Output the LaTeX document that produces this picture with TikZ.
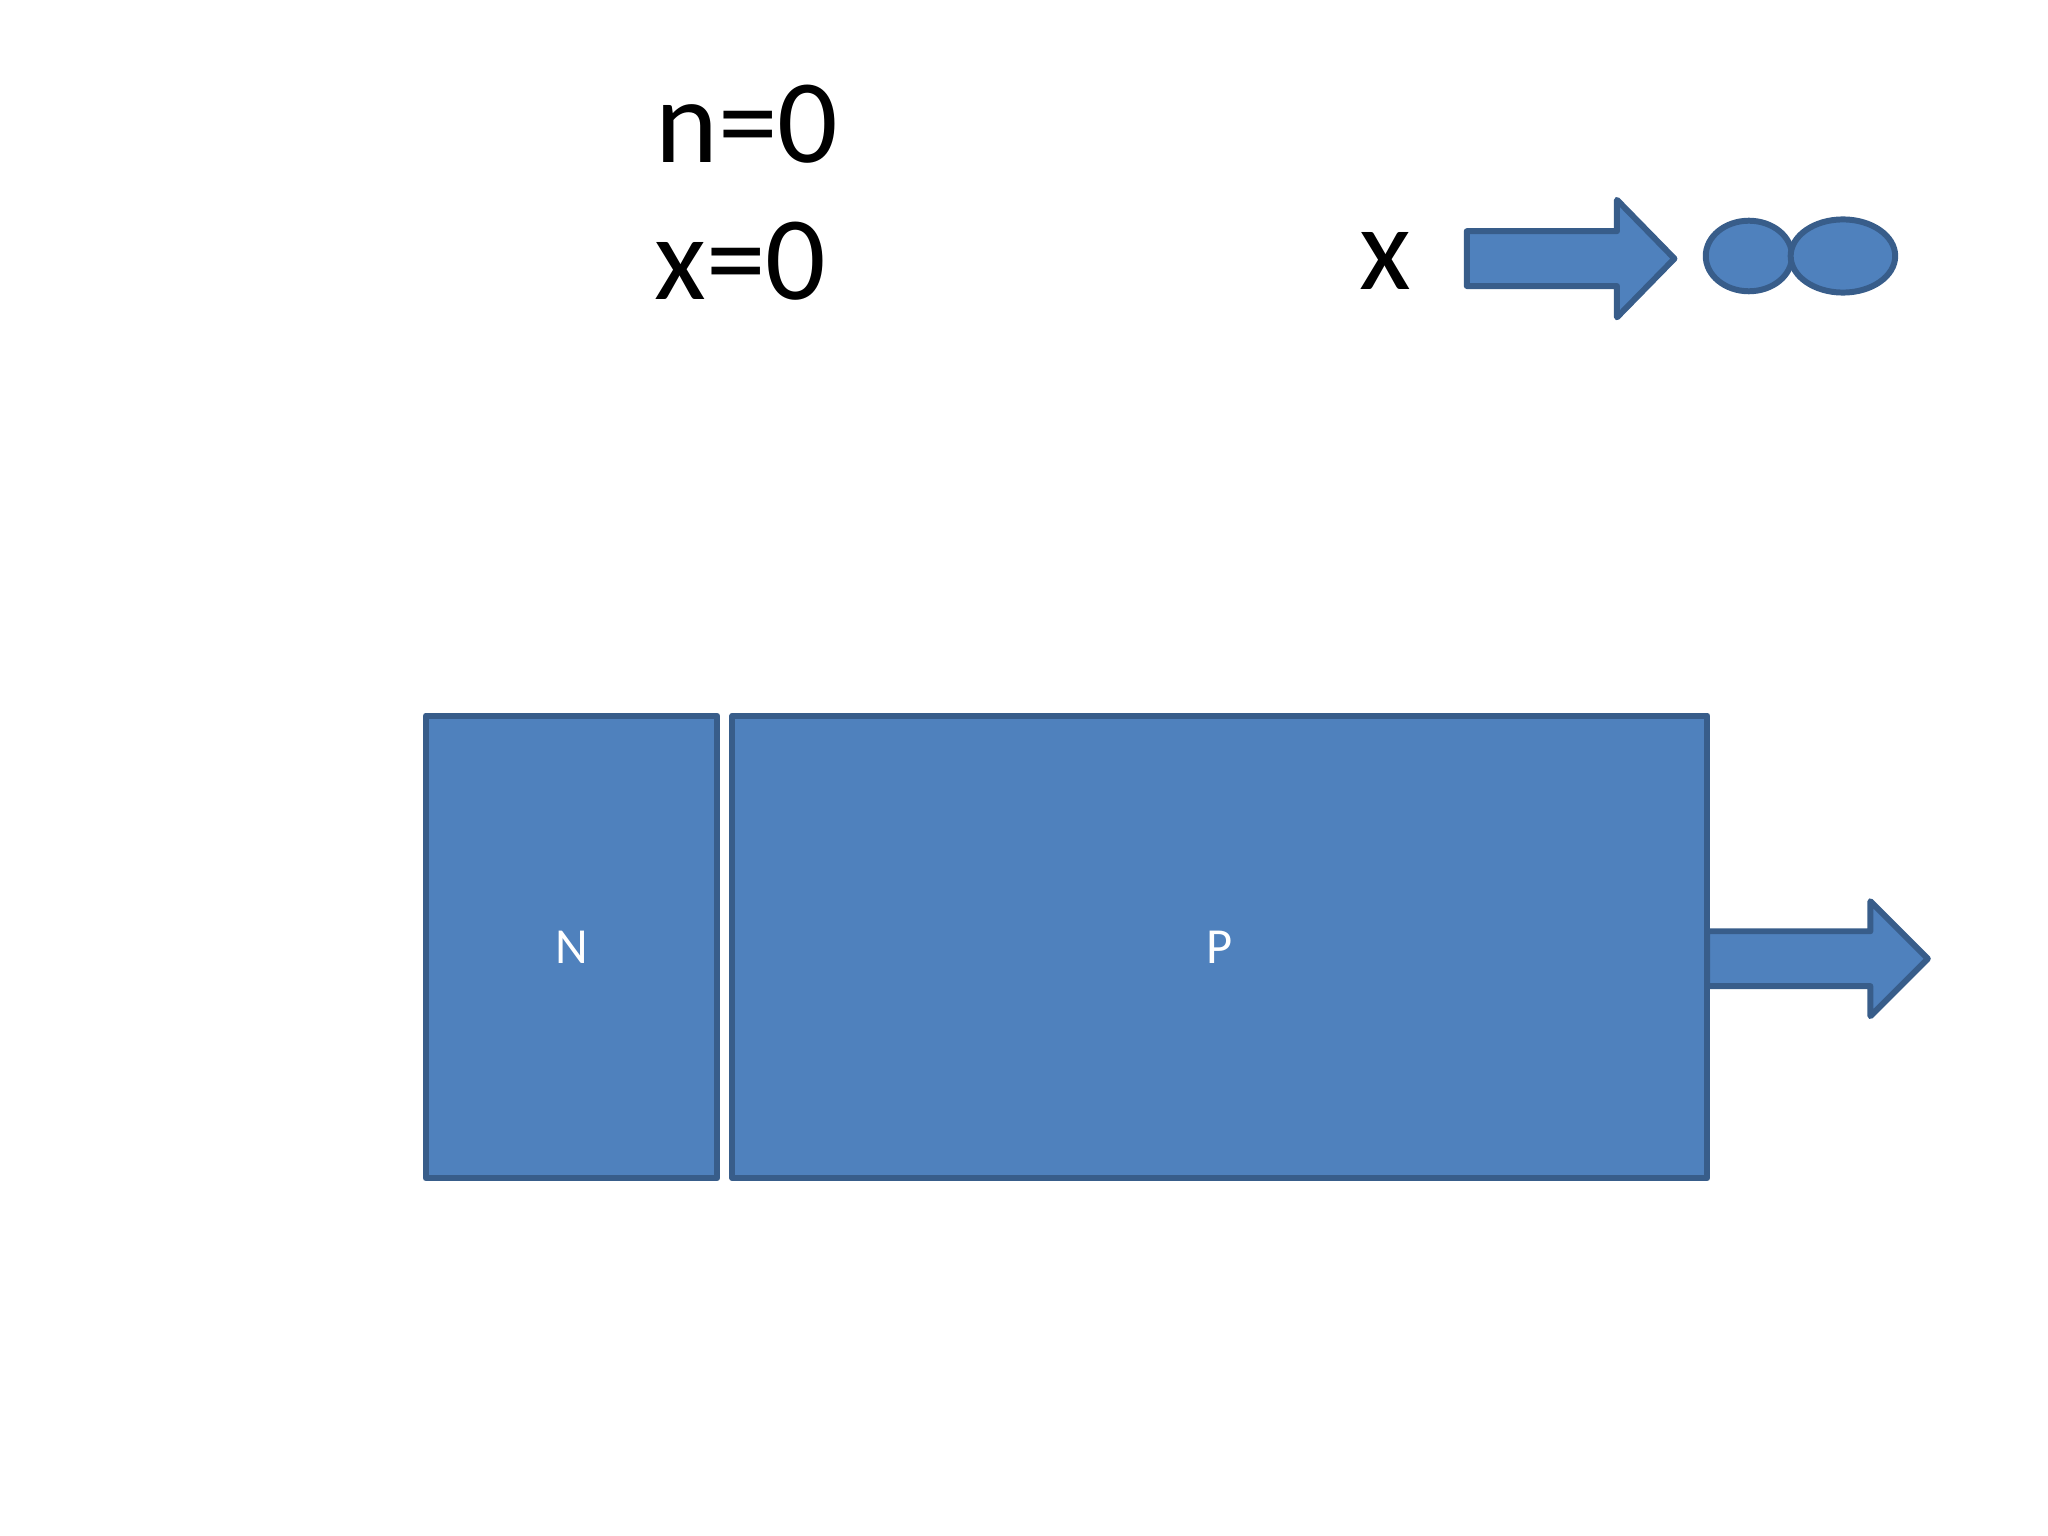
\documentclass[tikz,border=0pt]{standalone}
\usepackage{fontspec}
\setmainfont{Carlito}
\usetikzlibrary{shapes.geometric}
\definecolor{bfill}{HTML}{4F81BD}
\definecolor{bline}{HTML}{385D8A}
\tikzset{shp/.style={fill=bfill,draw=bline,line width=1.3pt,line join=round},
 big/.style={font=\fontsize{26}{30}\selectfont}}
\begin{document}
\begin{tikzpicture}[x=0.01cm,y=-0.01cm]
\useasboundingbox (0,0) rectangle (1568,1176);
\node[big] (n0) at (572,95) {n=0};
\node[big] (x0) at (567,200) {x=0};
\node[big] (xl) at (1061,200) {x};
\path[shp] (1123,177) -- (1238,177) -- (1238,153) -- (1282,198) -- (1238,243) -- (1238,219) -- (1123,219) -- cycle;
\node[shp,ellipse,minimum width=66\pgflinewidth,inner sep=0pt,minimum width=0.66cm,minimum height=0.54cm] (e1) at (1339,196) {};
\node[shp,ellipse,inner sep=0pt,minimum width=0.80cm,minimum height=0.56cm] (e2) at (1411,196) {};
\node[shp,rectangle,minimum width=2.23cm,minimum height=3.54cm,text=white,font=\fontsize{11}{13}\selectfont] (N) at (437.5,725) {N};
\node[shp,rectangle,minimum width=7.46cm,minimum height=3.54cm,text=white,font=\fontsize{11}{13}\selectfont] (P) at (934,725) {P};
\path[shp] (1307,713) -- (1432,713) -- (1432,690) -- (1476,734) -- (1432,778) -- (1432,755) -- (1307,755) -- cycle;
\end{tikzpicture}
\end{document}
